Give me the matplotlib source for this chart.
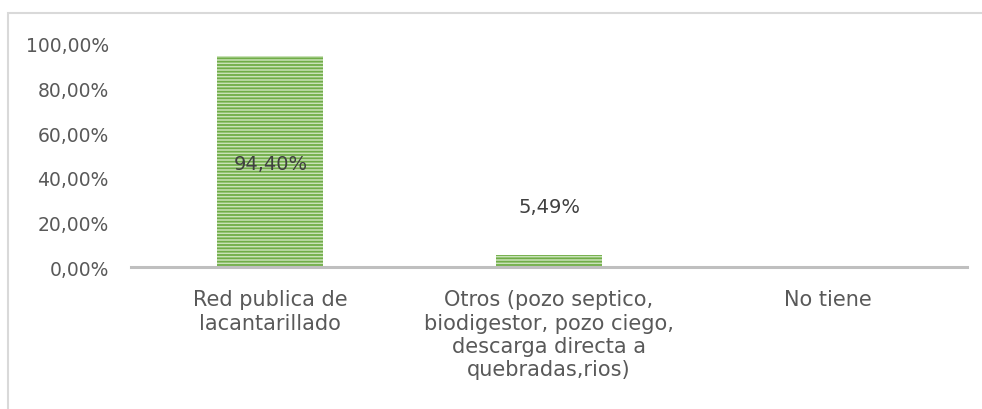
import matplotlib
matplotlib.use("Agg")
import matplotlib.pyplot as plt
from matplotlib.patches import Rectangle

plt.rcParams["font.family"] = ["DejaVu Sans"]
plt.rcParams["hatch.linewidth"] = 1.3

# data
categories = [
    "Red publica de\nlacantarillado",
    "Otros (pozo septico,\nbiodigestor, pozo ciego,\ndescarga directa a\nquebradas,rios)",
    "No tiene",
]
values = [0.944, 0.0549, 0.0]
value_labels = ["94,40%", "5,49%", None]
label_y = [0.462, 0.27, None]   # where the data labels sit (fraction of axis)
yticks = [0.0, 0.2, 0.4, 0.6, 0.8, 1.0]
ytick_labels = ["0,00%", "20,00%", "40,00%", "60,00%", "80,00%", "100,00%"]

TEXT = "#595959"
GREEN_DARK = "#70ad47"
GREEN_LIGHT = "#c9e2b8"

fig = plt.figure(figsize=(9.82, 4.10), dpi=100)
ax = fig.add_axes([131 / 982, 1 - 268 / 410, 836 / 982, 223 / 410])

x = list(range(len(categories)))
ax.bar(x, values, width=0.38, color=GREEN_LIGHT, edgecolor=GREEN_DARK,
       hatch="-----", linewidth=0, zorder=2)

for xi, lab, ly in zip(x, value_labels, label_y):
    if lab is None:
        continue
    ax.text(xi, ly, lab, ha="center", va="center", fontsize=14,
            color="#404040", zorder=3)

ax.set_xlim(-0.5, len(categories) - 0.5)
ax.set_ylim(0, 1.0)
ax.set_yticks(yticks)
ax.set_yticklabels(ytick_labels)
ax.set_xticks(x)
ax.set_xticklabels(categories, linespacing=1.21)

ax.tick_params(axis="y", length=0, pad=16, labelsize=13.5, labelcolor=TEXT)
ax.tick_params(axis="x", length=0, pad=16, labelsize=15, labelcolor=TEXT)

for side in ["top", "right", "left"]:
    ax.spines[side].set_visible(False)
ax.spines["bottom"].set_color("#bfbfbf")
ax.spines["bottom"].set_linewidth(2.2)
ax.spines["bottom"].set_zorder(4)

# chart-area border, cropped at right and bottom like the reference
fig.patches.append(Rectangle((8 / 982, -0.1), 1.2, 1 - 14 / 410 + 0.1,
                             transform=fig.transFigure, fill=False,
                             edgecolor="#d9d9d9", linewidth=1.5))

fig.savefig("out.png", dpi=100)
